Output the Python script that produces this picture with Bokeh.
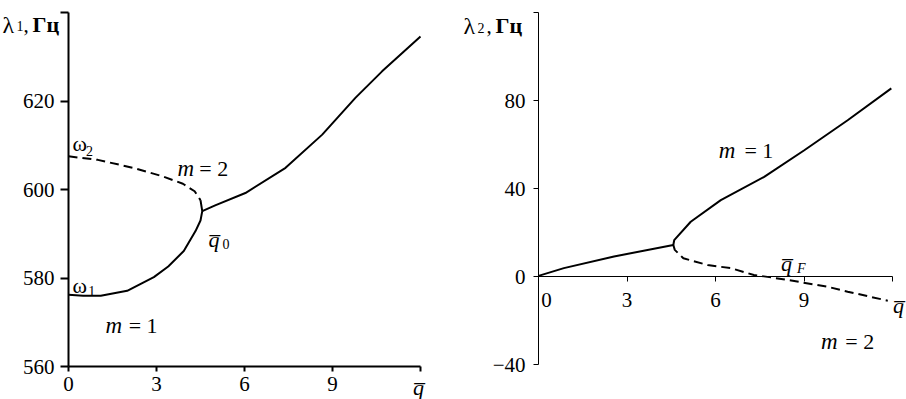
from bokeh.plotting import figure
from bokeh.layouts import row
from bokeh.models import Range1d, FixedTicker, Label
from bokeh.embed import file_html
from bokeh.resources import INLINE

FONT = "Liberation Serif"

# ---- left panel: lambda_1, Hz ----
x_ticks = [0, 3, 6, 9, 12]
l_y_ticks = [560, 580, 600, 620, 640]
# m = 1 (solid, lower branch up to the cusp q0)
l_m1_x = [0.0, 0.5, 1.1, 2.0, 2.91, 3.4, 3.93, 4.33, 4.5, 4.56, 4.5]
l_m1_y = [576.2, 576.0, 576.0, 577.1, 580.2, 582.6, 586.1, 590.6, 593.0, 595.1, 597.6]
# m = 2 (dashed, upper branch up to the cusp q0)
l_m2_x = [0.0, 1.0, 2.2, 3.2, 3.9, 4.3, 4.5]
l_m2_y = [607.5, 606.7, 604.9, 603.0, 601.3, 599.6, 597.6]
# merged branch beyond q0 (solid)
l_mr_x = [4.56, 5.0, 6.03, 7.4, 8.65, 9.78, 10.69, 12.0]
l_mr_y = [595.1, 596.4, 599.2, 604.9, 612.4, 620.7, 626.7, 634.6]

# ---- right panel: lambda_2, Hz ----
r_y_ticks = [-40, 0, 40, 80, 120]
r_lo_x = [0.0, 0.86, 2.56, 4.57]
r_lo_y = [0.3, 3.8, 9.1, 14.3]
r_m1_x = [4.57, 4.6, 5.16, 6.18, 7.65, 9.01, 10.48, 11.96]
r_m1_y = [14.3, 16.5, 24.9, 34.7, 45.3, 57.4, 71.0, 85.5]
r_m2_x = [4.57, 4.62, 4.91, 5.73, 6.52, 7.3, 7.88, 8.45, 9.78, 10.48, 11.84]
r_m2_y = [14.3, 12.1, 8.3, 5.2, 3.8, 0.7, -0.4, -1.6, -4.6, -6.9, -11.0]

QBAR = "q\u0305"
H = 399


def rng(v0, v1, p0, p1, size, flip=False):
    """Range so that value v0 sits at pixel p0 and v1 at pixel p1."""
    k = (v1 - v0) / (p1 - p0)
    if flip:  # pixels measured from the top; start = bottom, end = top
        return Range1d(v0 + (size - p0) * k, v0 - p0 * k)
    return Range1d(v0 - p0 * k, v0 + (size - p0) * k)


def make_fig(w, xr, yr, xloc, ybounds, lw, xt, xs, yt, ys):
    p = figure(width=w, height=H, x_range=xr, y_range=yr,
               output_backend="svg", toolbar_location=None,
               min_border=0, min_border_left=0, min_border_right=0,
               min_border_top=0, min_border_bottom=0)
    p.outline_line_color = None
    p.grid.visible = False
    p.xaxis.fixed_location = xloc
    p.xaxis.bounds = (0, 12)
    p.yaxis.fixed_location = 0
    p.yaxis.bounds = ybounds
    for ax in (p.xaxis[0], p.yaxis[0]):
        ax.axis_line_color = "black"
        ax.axis_line_width = lw
        ax.major_tick_line_color = "black"
        ax.major_tick_line_width = lw
        ax.minor_tick_line_color = None
        ax.major_tick_in = 0
        ax.major_label_text_font = FONT
        ax.major_label_text_font_size = "21px"
        ax.major_label_text_color = "black"
    p.xaxis.ticker = FixedTicker(ticks=x_ticks)
    p.xaxis.major_tick_out = xt
    p.xaxis.major_label_standoff = xs
    p.yaxis.major_tick_out = yt
    p.yaxis.major_label_standoff = ys
    return p


def lab(p, x, y, text, size=21, style="normal", align="left", dx=0, dy=0):
    p.add_layout(Label(x=x, y=y, text=text, x_offset=dx, y_offset=dy,
                       text_font=FONT, text_font_size=f"{size}px",
                       text_font_style=style, text_color="black",
                       text_align=align, text_baseline="alphabetic"))


# ---------- left ----------
W1 = 458
p1 = make_fig(W1, rng(0, 12, 68, 420, W1), rng(640, 560, 12, 366, H, flip=True),
              560, (560, 640), 2, 5, 5, 8, 6)
p1.yaxis.ticker = FixedTicker(ticks=l_y_ticks)
p1.yaxis.major_label_overrides = {640: ""}
p1.xaxis.major_label_overrides = {12: ""}
p1.line(l_m1_x, l_m1_y, line_color="black", line_width=2)
p1.line(l_mr_x, l_mr_y, line_color="black", line_width=2)
p1.line(l_m2_x, l_m2_y, line_color="black", line_width=2, line_dash="9 5")

lab(p1, 0, 640, "\u03bb", size=24, dx=-66, dy=-12)
lab(p1, 0, 640, "1", size=14, dx=-52, dy=-13)
lab(p1, 0, 640, ",", dx=-45, dy=-12)
lab(p1, 0, 640, "\u0413\u0446", size=22, style="bold", dx=-36, dy=-12)
lab(p1, 0.136, 610.45, "\u03c9", size=22)
lab(p1, 0.6, 608.65, "2", size=14)
lab(p1, 0.136, 578.2, "\u03c9", size=22)
lab(p1, 0.67, 577.1, "1", size=14)
lab(p1, 3.716, 604.8, "m", size=23, style="italic")
lab(p1, 4.46, 604.8, "= 2", size=22)
lab(p1, 1.26, 569.2, "m", size=23, style="italic")
lab(p1, 2.05, 569.2, "= 1", size=22)
lab(p1, 4.77, 588.8, QBAR, size=22, style="italic")
lab(p1, 5.25, 587.7, "0", size=14)
lab(p1, 12, 560, QBAR, size=22, style="italic", align="center", dx=-2, dy=-21)

# ---------- right ----------
W2 = 448
p2 = make_fig(W2, rng(0, 12, 80, 434, W2), rng(120, -40, 12, 364, H, flip=True),
              0, (-40, 120), 1, 5, 6, 5, 8)
p2.yaxis.ticker = FixedTicker(ticks=r_y_ticks)
p2.yaxis.major_label_overrides = {120: "", -40: "\u221240"}
p2.xaxis.major_label_overrides = {12: "", 0: "\u00a0\u00a0\u00a00"}
p2.line(r_lo_x, r_lo_y, line_color="black", line_width=2)
p2.line(r_m1_x, r_m1_y, line_color="black", line_width=2)
p2.line(r_m2_x, r_m2_y, line_color="black", line_width=2, line_dash="9 5")

lab(p2, 0, 120, "\u03bb", size=24, dx=-75, dy=-13)
lab(p2, 0, 120, "2", size=14, dx=-61, dy=-15)
lab(p2, 0, 120, ",", dx=-52, dy=-13)
lab(p2, 0, 120, "\u0413\u0446", size=22, style="bold", dx=-43, dy=-13)
lab(p2, 6.11, 57.3, "m", size=23, style="italic")
lab(p2, 6.98, 57.3, "= 1", size=22)
lab(p2, 8.22, 6.1, QBAR, size=22, style="italic")
lab(p2, 8.76, 3.85, "F", size=14, style="italic")
lab(p2, 9.58, -29.7, "m", size=23, style="italic")
lab(p2, 10.4, -29.7, "= 2", size=22)
lab(p2, 12, 0, QBAR, size=22, style="italic", align="center", dx=6, dy=-29)

layout = row(p1, p2)
open("out.html", "w").write(file_html(layout, INLINE))
